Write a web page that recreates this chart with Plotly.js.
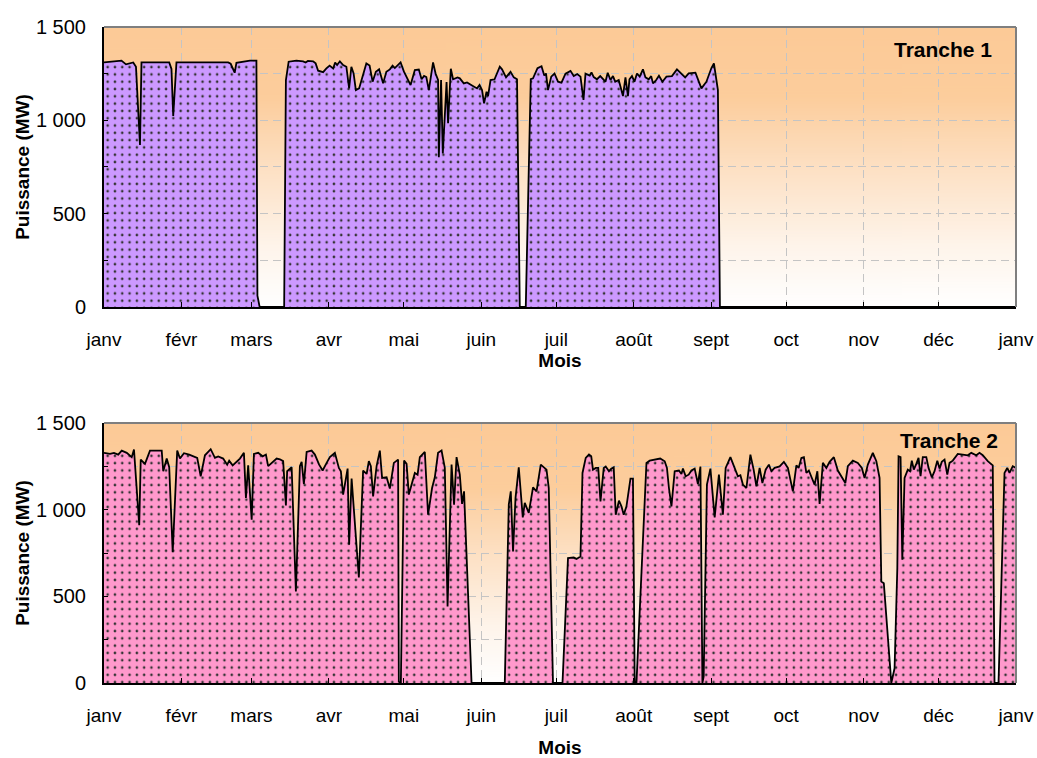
<!DOCTYPE html>
<html>
<head>
<meta charset="utf-8">
<script src="https://cdn.plot.ly/plotly-3.0.1.min.js"></script>
<style>html,body{margin:0;padding:0;background:#fff;}#chart{width:1037px;height:758px;}</style>
</head>
<body>
<div id="chart"></div>
<script>
// Month start positions (day of year) and labels
var monthDays = [0, 31, 59, 90, 120, 151, 181, 212, 243, 273, 304, 334, 365];
var monthLabels = ['janv', 'févr', 'mars', 'avr', 'mai', 'juin', 'juil', 'août', 'sept', 'oct', 'nov', 'déc', 'janv'];
var powerTicks = [0, 250, 500, 750, 1000, 1250, 1500];
var powerLabels = ['0', '', '500', '', '1 000', '', '1 500'];

// Tranche 1: day of year and power (MW)
var t1Day = [0,7,8.8,11.7,12.8,14.4,15,26.1,27,27.7,29,49.7,50.7,52.3,53,58.4,61,61.4,62.3,72.1,72.8,73.9,77,79.7,80.7,81.6,83.7,84.7,85.7,87.7,89,90.3,91.7,92.5,93.3,94.4,95.7,97,98.1,99,99.9,100.8,102.1,103.7,105,106.3,107.5,108.8,110.1,111.7,113,114.4,115.5,116.4,117.7,118.7,120,122.7,124.4,126,127.1,128.1,129,130,131.7,132.7,133.7,134,134.9,135.6,137.1,137.7,138.8,139.7,141.5,142.4,144,145.3,147.3,149.3,150.3,151.3,152.1,153.1,153.7,154.7,156.3,158.4,159.3,160.9,162.7,164,165.3,166.4,168.8,170.8,171.7,173.5,175.1,176.2,176.9,177.7,179,180.3,181.7,183.1,184.7,186.7,188,189.4,190.7,191.9,192.7,194.4,195.1,196,197.3,198.6,200.7,201.6,202.7,203.7,204.6,206,207.7,208.7,209.7,210.3,211.3,212.3,213.3,214.4,215.7,216.7,218,219,219.7,221,222.1,223.5,225.1,227.3,229.3,231.3,232.6,234,236,236.7,239.1,241.1,243.1,244.1,245.7,246.5,365];
var t1Mw = [1310,1320,1300,1310,1287,868,1310,1310,1275,1023,1310,1310,1303,1255,1308,1320,1320,60,0,0,1216,1314,1320,1316,1310,1318,1316,1305,1266,1258,1278,1293,1278,1310,1296,1316,1296,1287,1171,1287,1251,1162,1171,1251,1305,1294,1207,1260,1273,1198,1260,1273,1293,1280,1298,1310,1262,1189,1269,1272,1220,1238,1232,1162,1310,1251,1216,802,1216,823,1205,984,1276,1220,1230,1225,1198,1203,1187,1171,1189,1162,1091,1153,1130,1216,1220,1287,1273,1230,1260,1230,1220,0,0,1221,1225,1280,1290,1240,1251,1162,1234,1251,1207,1202,1250,1265,1237,1248,1234,1109,1250,1240,1257,1232,1220,1237,1207,1255,1216,1237,1207,1216,1130,1230,1130,1220,1237,1207,1251,1234,1273,1230,1220,1237,1198,1216,1239,1207,1234,1237,1273,1248,1230,1251,1251,1255,1171,1207,1280,1305,1162,0,0];

// Tranche 2: day of year and power (MW)
var t2Day = [0,2.4,4,5.7,7.1,9.1,11.1,12,14.1,14.7,16.4,18.4,23.1,23.7,25.1,26.1,27.5,29.3,30.4,32,34.1,35.7,37.3,38.7,40.4,42.7,44.4,45.7,47.7,49.3,50.1,51.5,53.1,54.4,56,56.8,57.7,59.1,60,61.7,63.5,64.8,65.7,67.7,69.1,70.4,71.7,72.8,73.3,75.1,76.8,78.4,79.1,80,81.1,83.1,84.4,86.1,87.5,89.1,90.4,92.4,94,94.8,95.7,97.5,98.1,99.1,102,103.7,105.1,106,106.8,107.7,109.1,110.4,111.3,113.1,114.4,116,117.7,118,118.8,120.1,121.1,122,123.3,124.4,125.5,126.4,128.4,129.7,131.3,132.4,133.7,135.1,136.4,137.5,139.1,140.1,141.1,142.4,143.3,144.1,147.1,160.4,162,162.8,163.7,164.7,166,167.6,168.4,170,171.7,173.1,174.8,177.1,178,179.7,183.5,185.7,188,189.1,190.7,191.5,192.8,194.1,195,195.7,196.8,197.8,198.7,200,200.8,202.1,203,204,204.8,206.1,207.1,208,209.1,210.7,211.7,212.4,213.1,217.1,218.4,220.4,221.7,222.6,224.4,225.3,226.1,227.1,228.4,230.1,231.1,231.7,232.8,234,235.1,236.4,237.7,238.7,239.5,240,241.3,242.7,244.4,246.1,247.7,248.8,250.7,252.4,253.7,254.7,255.7,257.1,258.7,260,261.1,262.4,263.5,264.8,266.1,267.1,268.4,270.4,272.1,273.7,275.7,277.1,278,279.1,280.1,281.1,282.1,283.3,284.4,285.5,286.4,287.7,289.1,290.4,292.1,293.7,295.1,296.7,297.7,299.7,301.7,303.3,304.4,305.7,307.7,309.1,310.4,311.1,312.1,313.5,315.1,316.4,317.5,318,318.8,319.5,320.4,321.7,322.6,323.3,324.1,325.1,326,326.8,327.7,329.1,330,331.3,332.4,333.5,334.4,335.3,336.4,337.5,338.4,339.7,341.7,343.7,345.7,347.1,349.1,350.4,351.7,353.7,355.7,356.4,358,360.4,361.5,362.4,363.7,365];
var t2Mw = [1328,1322,1328,1318,1341,1328,1303,1347,910,1289,1264,1341,1341,1222,1295,1245,755,1341,1295,1326,1318,1308,1299,1193,1314,1349,1299,1307,1295,1260,1283,1256,1280,1295,1328,1068,1256,942,1322,1328,1308,1318,1251,1276,1295,1291,1280,1025,1222,1245,528,1251,1276,1148,1333,1341,1318,1260,1226,1270,1303,1328,1241,1222,1087,1237,798,1179,609,1226,1206,1280,1251,1077,1251,1341,1183,1187,1122,1270,1289,8,0,1283,1264,1087,1164,1212,1202,1303,1333,971,1125,1187,1328,1341,1241,441,1260,1029,1303,1202,1033,1106,0,0,1029,1106,759,1068,1245,956,1039,981,1129,1106,1260,1231,1125,0,0,721,724,716,730,1212,1299,1318,1308,1231,1241,1241,1048,1241,1249,1222,1237,1245,971,1052,1019,971,1019,1179,1179,0,0,1270,1283,1289,1295,1295,1279,1241,1125,1019,1222,1226,1206,1237,1193,1202,1226,1237,1148,1249,0,38,1145,1237,956,1202,971,1241,1303,1241,1193,1199,1145,1125,1318,1231,1135,1241,1154,1231,1260,1222,1241,1250,1276,1241,1106,1256,1241,1299,1303,1212,1226,1183,1145,1222,1033,1270,1241,1276,1303,1226,1193,1154,1251,1283,1270,1241,1183,1260,1328,1280,1183,586,576,300,0,85,663,1308,1303,711,1183,1231,1222,1283,1231,1264,1299,1193,1303,1303,1241,1187,1222,1283,1237,1276,1289,1202,1270,1283,1322,1318,1314,1328,1314,1328,1314,1280,1256,0,0,1212,1241,1212,1251,1240];

// Background gradient image (orange top -> white bottom)
function gradientURL() {
  var c = document.createElement('canvas');
  c.width = 4; c.height = 400;
  var g = c.getContext('2d');
  var lg = g.createLinearGradient(0, 0, 0, 400);
  lg.addColorStop(0, '#FCCA97');
  lg.addColorStop(0.25, '#FCCD9C');
  lg.addColorStop(0.5, '#FDE0C3');
  lg.addColorStop(0.78, '#FEF4EA');
  lg.addColorStop(1, '#FFFFFF');
  g.fillStyle = lg;
  g.fillRect(0, 0, 4, 400);
  return c.toDataURL('image/png');
}
var bg = gradientURL();

var FONT = 'Arial, "Liberation Sans", sans-serif';

function areaTrace(x, y, color, xa, ya) {
  return {
    type: 'scatter', mode: 'lines', x: x, y: y, xaxis: xa, yaxis: ya,
    line: {color: '#000000', width: 1.8},
    fill: 'tozeroy', fillcolor: color,
    fillpattern: {shape: '.', size: 7.3, solidity: 0.1, fgcolor: '#333333', bgcolor: color},
    hoverinfo: 'skip'
  };
}

var data = [
  areaTrace(t1Day, t1Mw, '#CC99FF', 'x', 'y'),
  areaTrace(t2Day, t2Mw, '#FF99CC', 'x2', 'y2')
];

function xAxis(anchor, standoff) {
  return {
    anchor: anchor, domain: [0, 1], range: [0, 365],
    tickmode: 'array', tickvals: monthDays, ticktext: monthLabels,
    ticks: 'inside', ticklen: 5, tickcolor: '#000', tickwidth: 1,
    showgrid: true, gridcolor: '#C4C4C4', griddash: '8px,5px', gridwidth: 1,
    zeroline: false, showline: true, linecolor: '#000', linewidth: 2,
    tickfont: {family: FONT, size: 19, color: '#000'},
    ticklabelstandoff: 14,
    title: {text: 'Mois', font: {family: FONT, size: 19, color: '#000', weight: 'bold'}, standoff: standoff},
    fixedrange: true
  };
}
function yAxis(anchor, domain) {
  return {
    anchor: anchor, domain: domain, range: [0, 1500],
    tickmode: 'array', tickvals: powerTicks, ticktext: powerLabels,
    ticks: 'inside', ticklen: 4, tickcolor: '#000', tickwidth: 1,
    showgrid: true, gridcolor: '#C4C4C4', griddash: '8px,5px', gridwidth: 1,
    zeroline: false, showline: true, linecolor: '#000', linewidth: 2,
    tickfont: {family: FONT, size: 20, color: '#000'},
    ticklabelstandoff: 12,
    title: {text: 'Puissance (MW)', font: {family: FONT, size: 19, color: '#000', weight: 'bold'}, standoff: 1},
    fixedrange: true
  };
}

function borderShapes(xr, yr) {
  return [
    {type: 'line', xref: xr, yref: yr, x0: 0, x1: 1, y0: 1, y1: 1, line: {color: '#7f7f7f', width: 2}, layer: 'above'},
    {type: 'line', xref: xr, yref: yr, x0: 1, x1: 1, y0: 0, y1: 1, line: {color: '#7f7f7f', width: 2}, layer: 'above'}
  ];
}

var layout = {
  width: 1037, height: 758,
  margin: {l: 104, r: 21, t: 27, b: 75},
  paper_bgcolor: '#ffffff', plot_bgcolor: 'rgba(0,0,0,0)',
  showlegend: false,
  font: {family: FONT, color: '#000'},
  xaxis: xAxis('y', 0),
  yaxis: yAxis('x', [0.5732, 1]),
  xaxis2: xAxis('y2', 17),
  yaxis2: yAxis('x2', [0, 0.3963]),
  images: [
    {source: bg, xref: 'x domain', yref: 'y domain', x: 0, y: 1, sizex: 1, sizey: 1, xanchor: 'left', yanchor: 'top', sizing: 'stretch', layer: 'below'},
    {source: bg, xref: 'x2 domain', yref: 'y2 domain', x: 0, y: 1, sizex: 1, sizey: 1, xanchor: 'left', yanchor: 'top', sizing: 'stretch', layer: 'below'}
  ],
  shapes: borderShapes('x domain', 'y domain').concat(borderShapes('x2 domain', 'y2 domain')),
  annotations: [
    {text: 'Tranche 1', xref: 'x domain', yref: 'y domain', x: 0.976, y: 0.92, xanchor: 'right', yanchor: 'middle', showarrow: false,
     font: {family: FONT, size: 21, color: '#000', weight: 'bold'}},
    {text: 'Tranche 2', xref: 'x2 domain', yref: 'y2 domain', x: 0.982, y: 0.933, xanchor: 'right', yanchor: 'middle', showarrow: false,
     font: {family: FONT, size: 21, color: '#000', weight: 'bold'}}
  ]
};

Plotly.newPlot('chart', data, layout, {displayModeBar: false, staticPlot: true});
</script>
</body>
</html>
